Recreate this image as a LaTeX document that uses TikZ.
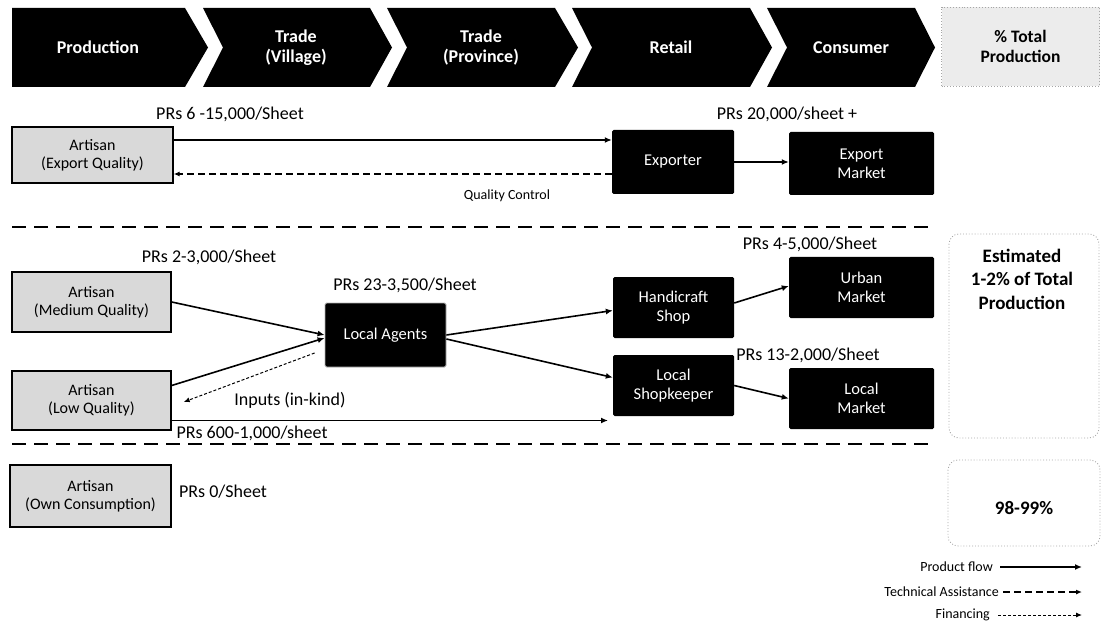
\documentclass[tikz,border=0pt]{standalone}
\usepackage{fontspec}
\setmainfont{Carlito}
\usetikzlibrary{arrows.meta,calc}
\begin{document}
\begin{tikzpicture}[x=1pt,y=-1pt,
  hdr/.style={text=white,font=\fontsize{18}{20}\selectfont\bfseries,align=center},
  artbox/.style={draw=black,line width=1.4pt,fill=gray!30,align=center,inner sep=0pt,font=\fontsize{16}{18}\selectfont},
  blk/.style={fill=black,text=white,align=center,inner sep=0pt,rounded corners=1.5pt,font=\fontsize{16.5}{19}\selectfont},
  lbl/.style={font=\fontsize{18}{20}\selectfont,inner sep=0pt},
  small/.style={font=\fontsize{14}{16}\selectfont,inner sep=0pt},
  pct/.style={font=\fontsize{19}{23.5}\selectfont\bfseries,align=center,inner sep=0pt},
  flow/.style={line width=1.6pt,-{Latex[length=7pt,width=6pt]}},
  tech/.style={line width=1.2pt,dash pattern=on 7pt off 4pt,-{Latex[length=6pt,width=5pt]}},
  fin/.style={line width=1pt,dash pattern=on 3pt off 2pt,-{Latex[length=6pt,width=5pt]}},
  divider/.style={line width=2.2pt,dash pattern=on 14pt off 8pt},
  pctbox/.style={draw=gray!70,dotted,line width=0.9pt,rounded corners=10pt},
]
\useasboundingbox (0,0) rectangle (1102,628);
% header chevrons
\fill (12,8) -- (185,8) -- (208,47.5) -- (185,87) -- (12,87) -- cycle;
\fill (203,8) -- (370,8) -- (392,47.5) -- (370,87) -- (203,87) -- (223,47.5) -- cycle;
\fill (387,8) -- (555,8) -- (578,47.5) -- (555,87) -- (387,87) -- (407,47.5) -- cycle;
\fill (572,8) -- (750,8) -- (772,47.5) -- (750,87) -- (572,87) -- (592,47.5) -- cycle;
\fill (767,8) -- (915,8) -- (935,47.5) -- (915,87) -- (767,87) -- (787,47.5) -- cycle;
\node[hdr] (h1) at (98,47.5) {Production};
\node[hdr] (h2) at (296,47.5) {Trade\\(Village)};
\node[hdr] (h3) at (481,47.5) {Trade\\(Province)};
\node[hdr] (h4) at (671,47.5) {Retail};
\node[hdr] (h5) at (851,47.5) {Consumer};
\node[draw=gray!70,dotted,line width=0.9pt,fill=gray!15,minimum width=158pt,minimum height=79pt,inner sep=0pt,
  font=\fontsize{17.5}{20}\selectfont\bfseries,align=center] (h6) at (1020.5,46.5) {\% Total\\Production};

% export row
\node[artbox,minimum width=161pt,minimum height=56pt] (artE) at (92.5,155) {Artisan\\(Export Quality)};
\node[blk,minimum width=122pt,minimum height=64pt] (exp) at (673,162) {Exporter};
\node[blk,minimum width=145pt,minimum height=63pt] (expM) at (861.5,163.5) {Export\\Market};
\node[lbl] (p1) at (230,114) {PRs 6 -15,000/Sheet};
\node[lbl] (p2) at (787,114) {PRs 20,000/sheet +};
\node[small] (qc) at (507,196) {Quality Control};
\draw[flow] ([yshift=15pt]artE.east) -- ([yshift=15pt]artE.east -| exp.west);
\draw[tech] ([yshift=-12pt]exp.west) -- ([yshift=-12pt]exp.west -| artE.east);
\draw[flow] (exp.east) -- (exp.east -| expM.west);

% dividers
\coordinate (d1a) at (12,227); \coordinate (d1b) at (935,227);
\coordinate (d2a) at (12,444); \coordinate (d2b) at (935,444);
\draw[divider] (d1a) -- (d1b);
\draw[divider] (d2a) -- (d2b);

% middle row
\node[artbox,minimum width=159pt,minimum height=60pt] (artM) at (91.5,302) {Artisan\\(Medium Quality)};
\node[artbox,minimum width=159pt,minimum height=59pt] (artL) at (91.5,400.5) {Artisan\\(Low Quality)};
\node[blk,draw=gray!60,line width=0.8pt,minimum width=121pt,minimum height=64pt] (agents) at (385.5,335) {Local Agents};
\node[blk,minimum width=121pt,minimum height=61pt] (hshop) at (673.5,307.5) {Handicraft\\Shop};
\node[blk,minimum width=121pt,minimum height=61pt] (shopk) at (673.5,385.5) {Local\\Shopkeeper};
\node[blk,minimum width=145pt,minimum height=61pt] (urban) at (861.5,287.5) {Urban\\Market};
\node[blk,minimum width=145pt,minimum height=61pt] (localM) at (861.5,398.5) {Local\\Market};
\node[lbl] (p3) at (209,257) {PRs 2-3,000/Sheet};
\node[lbl] (p4) at (405,285) {PRs 23-3,500/Sheet};
\node[lbl] (inp) at (290,400) {Inputs (in-kind)};
\node[lbl] (p5) at (252,433) {PRs 600-1,000/sheet};
\node[lbl] (p6) at (810,244) {PRs 4-5,000/Sheet};
\node[lbl] (p7) at (808,355) {PRs 13-2,000/Sheet};
\coordinate (lowend) at (608,420.5);
\draw[flow] (artM.east) -- (agents.west);
\draw[flow] ([yshift=15pt]artL.east) -- ([yshift=-3pt]agents.west);
\draw[fin] ([shift={(-10pt,-18pt)}]agents.west) -- ([shift={(12pt,-1.5pt)}]artL.east);
\draw[flow] ([yshift=-20pt]artL.east) -- (lowend);
\draw[flow] (agents.east) -- ([yshift=-3pt]hshop.west);
\draw[flow] ([yshift=-4pt]agents.east) -- ([yshift=8pt]shopk.west);
\draw[flow] ([yshift=4.5pt]hshop.east) -- ([yshift=1.5pt]urban.west);
\draw[flow] (shopk.east) -- (localM.west);

% right percentage boxes
\draw[pctbox] (949,234) rectangle (1099,438);
\node[pct] (est) at (1022,279) {Estimated\\1-2\% of Total\\Production};
\draw[pctbox] (948,460) rectangle (1100,546);
\node[pct] (bulk) at (1024,508) {98-99\%};

% bottom row
\node[artbox,minimum width=161pt,minimum height=62pt] (artO) at (90.5,496) {Artisan\\(Own Consumption)};
\node[lbl] (p8) at (223,492) {PRs 0/Sheet};

% legend
\node[small,anchor=east] (lg1) at (993,567) {Product flow};
\node[small,anchor=east] (lg2) at (999,592) {Technical Assistance};
\node[small,anchor=east] (lg3) at (990,615) {Financing};
\coordinate (l1a) at (1000,567); \coordinate (l1b) at (1082,567);
\coordinate (l2a) at (1003,592); \coordinate (l2b) at (1082,592);
\coordinate (l3a) at (998,615);  \coordinate (l3b) at (1082,615);
\draw[flow,line width=1.4pt] (l1a) -- (l1b);
\draw[tech] (l2a) -- (l2b);
\draw[fin] (l3a) -- (l3b);
\end{tikzpicture}
\end{document}
